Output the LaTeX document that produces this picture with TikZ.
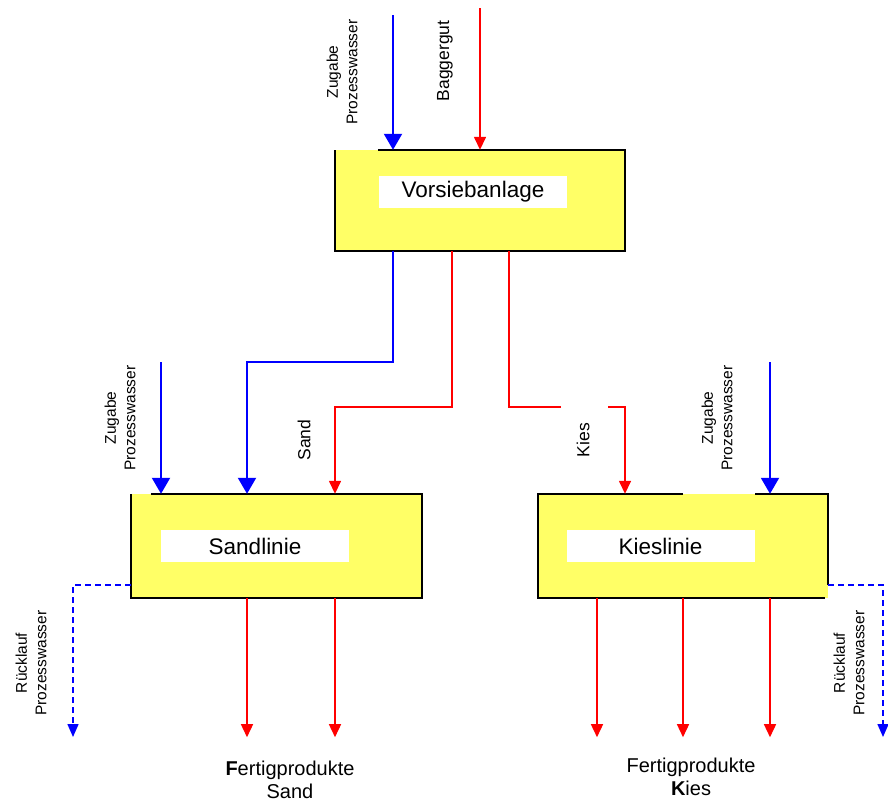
\documentclass[tikz,border=0pt]{standalone}
\usepackage{fontspec}
\setmainfont{Liberation Sans}
\usetikzlibrary{arrows.meta}

\definecolor{boxyellow}{RGB}{255,255,102}

\begin{document}
\begin{tikzpicture}[x=1pt, y=-1pt,
    unit/.style={fill=boxyellow, minimum width=290pt, minimum height=104pt, inner sep=0pt},
    tag/.style={fill=white, minimum width=188pt, minimum height=32pt, inner sep=0pt, font=\fontsize{22.5}{26}\selectfont},
    vlabel/.style={rotate=90, align=center, inner sep=0pt, font=\fontsize{15.5}{19.5}\selectfont},
    slabel/.style={rotate=90, inner sep=0pt, font=\fontsize{17.5}{20}\selectfont},
    outlabel/.style={align=center, inner sep=0pt, font=\fontsize{20}{22.5}\selectfont},
    rim/.style={draw=black, line width=2pt},
    water/.style={-{Triangle[width=18pt,length=16pt]}, blue, line width=2pt},
    feed/.style={-{Triangle[width=12pt,length=13pt]}, red, line width=1.5pt},
    back/.style={-{Triangle[width=11pt,length=13pt]}, blue, line width=1.5pt, dash pattern=on 6pt off 4pt}
]
    \useasboundingbox (0,0) rectangle (888,801);

    \node[unit, minimum height=101pt] (vor) at (480,200.5) {};
    \node[tag] (vorTag) at (473,192) {Vorsiebanlage};
    \node[unit, minimum width=291pt] (sand) at (276.5,546) {};
    \node[tag] (sandTag) at (255,546) {Sandlinie};
    \node[unit] (kies) at (683,546) {};
    \node[tag] (kiesTag) at (660.5,546) {Kieslinie};

    \draw[rim] ([xshift=43pt]vor.north west) -- (vor.north east) -- (vor.south east) -- (vor.south west) -- (vor.north west);
    \draw[rim] ([xshift=20pt]sand.north west) -- (sand.north east) -- (sand.south east) -- (sand.south west) -- (sand.north west);
    \draw[rim] ([xshift=72pt]kies.north) -- (kies.north east) -- ([yshift=-39pt]kies.east);
    \draw[rim] ([xshift=-3pt]kies.south east) -- (kies.south west) -- (kies.north west) -- (kies.north);

    \coordinate (wVor) at (393,15);
    \coordinate (gVor) at (480,8);
    \coordinate (wSand) at (161,362);
    \coordinate (wKies) at (770,362);
    \coordinate (gapL) at (561,407);
    \coordinate (gapR) at (608,407);
    \coordinate (backL) at (73,737);
    \coordinate (backR) at (883,737);

    \draw[water] (wVor) -- (wVor |- vor.north);
    \draw[feed] (gVor) -- (vor.north);
    \draw[water] (wSand) -- (wSand |- sand.north);
    \draw[water] (wKies) -- (wKies |- kies.north);

    \draw[water] ([xshift=-87pt]vor.south) |- (247,362) -- ([xshift=-29.5pt]sand.north);
    \draw[feed] ([xshift=-28pt]vor.south) |- (335,407) -- ([xshift=58.5pt]sand.north);
    \draw[feed, -] ([xshift=29pt]vor.south) |- (gapL);
    \draw[feed] (gapR) -| ([xshift=-58pt]kies.north);

    \foreach \dx in {-29.5, 58.5}
        \draw[feed] ([xshift=\dx pt]sand.south) -- ++(0,139);
    \foreach \dx in {-86, 0, 87}
        \draw[feed] ([xshift=\dx pt]kies.south) -- ++(0,139);

    \draw[back] ([yshift=-39pt]sand.west) -| (backL);
    \draw[back] ([yshift=-39pt]kies.east) -| (backR);

    \node[vlabel] (wVorLbl) at (342,72) {Zugabe\\Prozesswasser};
    \node[slabel] (gVorLbl) at (445,61) {Baggergut};
    \node[vlabel] (wSandLbl) at (120,418) {Zugabe\\Prozesswasser};
    \node[slabel] (sandLbl) at (304,440) {Sand};
    \node[slabel] (kiesLbl) at (583,440) {Kies};
    \node[vlabel] (wKiesLbl) at (717,418) {Zugabe\\Prozesswasser};
    \node[vlabel] (backLLbl) at (31,663) {Rücklauf\\Prozesswasser};
    \node[vlabel] (backRLbl) at (849,663) {Rücklauf\\Prozesswasser};
    \node[outlabel] (sandOut) at (290,780) {\textbf{F}ertigprodukte\\Sand};
    \node[outlabel] (kiesOut) at (691,777) {Fertigprodukte\\\textbf{K}ies};
\end{tikzpicture}
\end{document}
